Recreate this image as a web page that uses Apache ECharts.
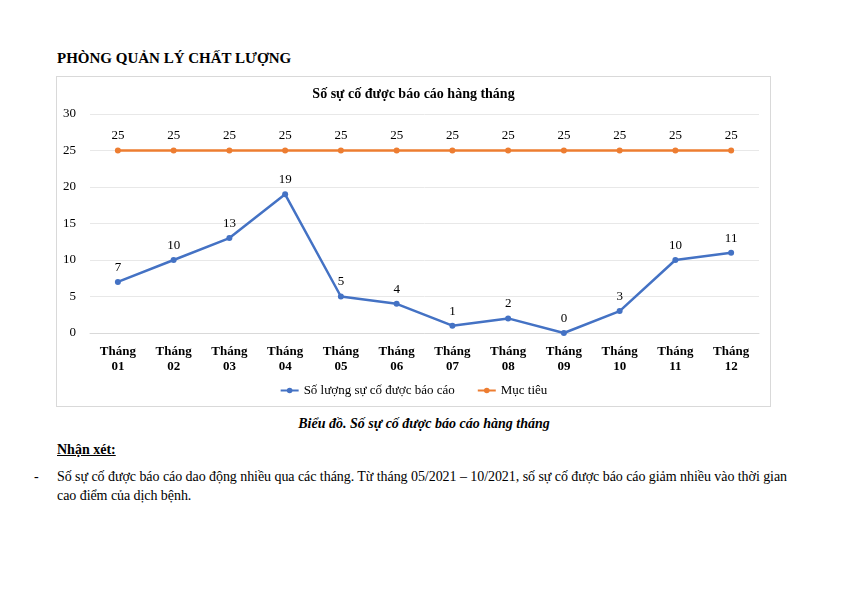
<!DOCTYPE html>
<html><head><meta charset="utf-8">
<script src="https://cdn.jsdelivr.net/npm/echarts@6/dist/echarts.min.js"></script>
<style>
body{margin:0;background:#fff;font-family:"Liberation Serif","Times New Roman",serif;color:#000;}
#page{position:relative;width:843px;height:596px;overflow:hidden;}
.t{position:absolute;white-space:nowrap;}
#chart{position:absolute;left:56px;top:76px;width:715px;height:331px;border:1px solid #d9d9d9;box-sizing:border-box;}
</style></head>
<body><div id="page">
<div class="t" style="left:57px;top:50px;font-size:15px;font-weight:bold;">PHÒNG QUẢN LÝ CHẤT LƯỢNG</div>
<div id="chart"></div>
<div class="t" style="left:0;width:848px;text-align:center;top:416px;font-size:14px;font-weight:bold;font-style:italic;">Biểu đồ. Số sự cố được báo cáo hàng tháng</div>
<div class="t" style="left:57px;top:442px;font-size:14px;font-weight:bold;text-decoration:underline;">Nhận xét:</div>
<div class="t" style="left:34px;top:469px;font-size:14px;">-</div>
<div class="t" style="left:57px;top:469px;font-size:14px;letter-spacing:-0.06px;">Số sự cố được báo cáo dao động nhiều qua các tháng. Từ tháng 05/2021 – 10/2021, số sự cố được báo cáo giảm nhiều vào thời gian</div>
<div class="t" style="left:57px;top:488px;font-size:14px;letter-spacing:-0.06px;">cao điểm của dịch bệnh.</div>
</div>
<script>
const categories = ["Tháng\n01","Tháng\n02","Tháng\n03","Tháng\n04","Tháng\n05","Tháng\n06","Tháng\n07","Tháng\n08","Tháng\n09","Tháng\n10","Tháng\n11","Tháng\n12"];
const reported = [7,10,13,19,5,4,1,2,0,3,10,11];
const target = [25,25,25,25,25,25,25,25,25,25,25,25];
const F = '"Liberation Serif","Times New Roman",serif';
const chart = echarts.init(document.getElementById('chart'));
chart.setOption({
  animation:false,
  textStyle:{fontFamily:F,color:'#000'},
  title:{text:'Số sự cố được báo cáo hàng tháng',left:'center',top:5,textStyle:{fontFamily:F,fontSize:14,fontWeight:'bold',color:'#000'}},
  grid:{left:33,right:11,top:37,bottom:73},
  legend:{bottom:4,itemGap:22,itemWidth:18,itemHeight:7,textStyle:{fontFamily:F,fontSize:13,color:'#000'},
    data:['Số lượng sự cố được báo cáo','Mục tiêu']},
  xAxis:{type:'category',data:categories,boundaryGap:true,
    axisLine:{lineStyle:{color:'#d9d9d9'}},axisTick:{show:false},
    axisLabel:{interval:0,fontFamily:F,fontSize:13,fontWeight:'bold',color:'#000',lineHeight:15,margin:11}},
  yAxis:{type:'value',min:0,max:30,interval:5,
    axisLine:{show:false},axisTick:{show:false},
    splitLine:{lineStyle:{color:'#e8e8e8'}},
    axisLabel:{fontFamily:F,fontSize:13,color:'#000',margin:14}},
  series:[
    {name:'Số lượng sự cố được báo cáo',type:'line',data:reported,color:'#4472C4',
     symbol:'circle',symbolSize:6,lineStyle:{width:2.5},
     label:{show:true,position:'top',distance:5,fontFamily:F,fontSize:13,color:'#000'}},
    {name:'Mục tiêu',type:'line',data:target,color:'#ED7D31',
     symbol:'circle',symbolSize:6,lineStyle:{width:2.5},
     label:{show:true,position:'top',distance:5,fontFamily:F,fontSize:13,color:'#000'}}
  ]
});
</script>
</body></html>
